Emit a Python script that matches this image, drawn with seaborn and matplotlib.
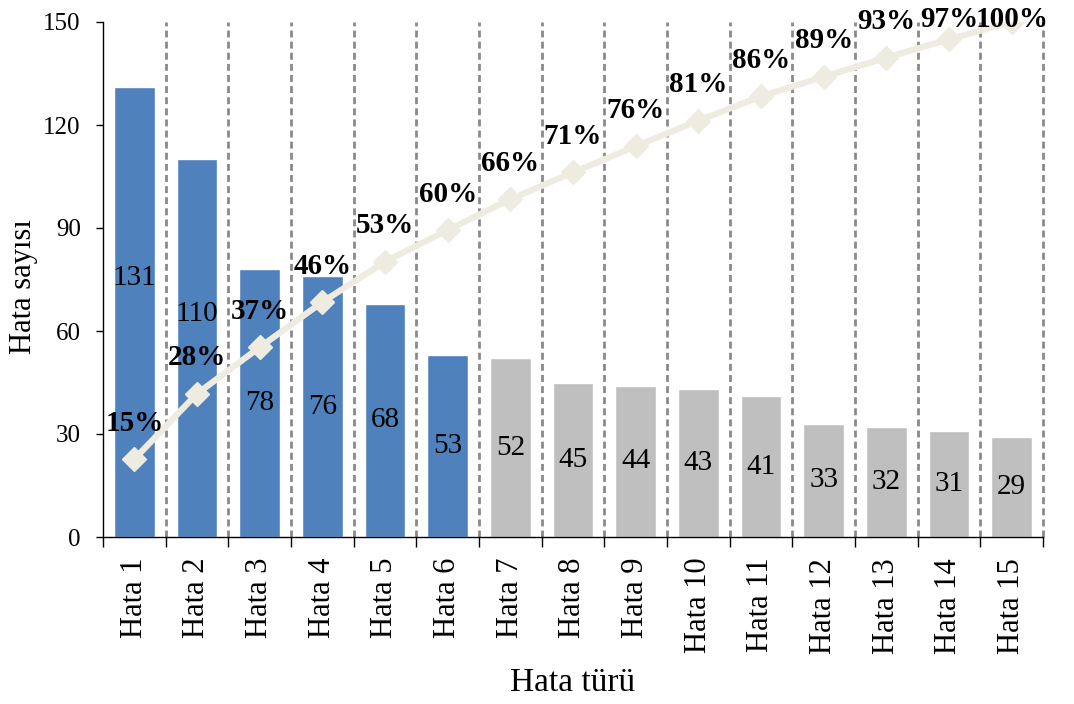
import numpy as np
import pandas as pd
import matplotlib
matplotlib.use("Agg")
import matplotlib.pyplot as plt
import seaborn as sns

# Error types and their counts (Pareto order)
categories = [f"Hata {i}" for i in range(1, 16)]
counts = [131, 110, 78, 76, 68, 53, 52, 45, 44, 43, 41, 33, 32, 31, 29]
# The first six types make up the "vital few" and are highlighted
vital_few = 6

sns.set_theme(style="white")
plt.rcParams["font.family"] = ["Liberation Serif", "DejaVu Serif"]

df = pd.DataFrame({"tur": categories, "sayi": counts})
df["kumulatif"] = df["sayi"].cumsum() / df["sayi"].sum() * 100
df["grup"] = ["vital" if i < vital_few else "other" for i in range(len(df))]

blue = "#4F81BD"
grey = "#BFBFBF"
line_col = "#EEECE1"

fig = plt.figure(figsize=(10.74, 7.04), dpi=100)
ax = fig.add_axes([103 / 1074, 1 - 537 / 704, 940 / 1074, 515 / 704])

sns.barplot(data=df, x="tur", y="sayi", hue="grup",
            palette={"vital": blue, "other": grey},
            width=0.65, dodge=False, legend=False, saturation=1, ax=ax, zorder=2)

ax.set_xlim(-0.5, len(df) - 0.5)
ax.set_ylim(0, 150)
ax.set_yticks(np.arange(0, 151, 30))

# dashed separators between categories
for b in np.arange(0.5, len(df), 1.0):
    ax.plot([b, b], [0, 150], color="#8A8A8A", lw=2.0,
            linestyle=(0, (2.5, 1.5)), zorder=1, clip_on=False)

# count labels inside bars (the tallest two lifted clear of the line)
lift = {0: 10, 1: 10}
for i, v in enumerate(df["sayi"]):
    ax.text(i, v / 2 + lift.get(i, 0), str(v), ha="center", va="center",
            fontsize=21, color="black", zorder=5)

# cumulative percentage on a hidden secondary axis
ax2 = ax.twinx()
ax2.set_ylim(0, 100)
sns.lineplot(x=np.arange(len(df)), y=df["kumulatif"].values, ax=ax2,
             color=line_col, lw=4.5, marker="D", markersize=12,
             markeredgecolor=line_col, markeredgewidth=1, zorder=4)
ax2.set_xlim(-0.5, len(df) - 0.5)
for i, p in enumerate(df["kumulatif"]):
    ax2.text(i, min(p + 7.0, 100.4), f"{p:.0f}%", ha="center", va="center",
             fontsize=21, fontweight="bold", color="black", zorder=6,
             clip_on=False)
ax2.set_yticks([])
for s in ax2.spines.values():
    s.set_visible(False)

# axes styling
for s in ["top", "right"]:
    ax.spines[s].set_visible(False)
for s in ["left", "bottom"]:
    ax.spines[s].set_color("black")
    ax.spines[s].set_linewidth(1.0)

ax.set_xticks(np.arange(len(df)))
ax.set_xticklabels(categories, rotation=90, fontsize=22)
ax.set_xticks(np.arange(-0.5, len(df), 1.0), minor=True)
ax.tick_params(axis="x", which="major", length=0, pad=15, colors="black")
ax.tick_params(axis="x", which="minor", length=7, width=1.0, direction="out",
               color="black", bottom=True)
ax.tick_params(axis="y", which="major", length=5, width=1.0, direction="out",
               left=True, pad=11, labelsize=18, colors="black")

ax.set_xlabel("Hata türü", fontsize=24, labelpad=10, color="black")
ax.set_ylabel("Hata sayısı", fontsize=22, color="black")
ax.yaxis.set_label_coords(-0.069, 0.487)

fig.savefig("out.png", dpi=100)
